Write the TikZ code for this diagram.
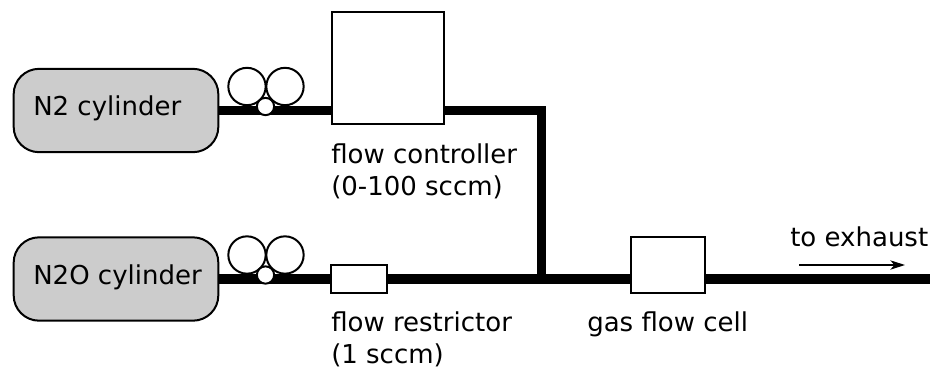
\documentclass[tikz,border=0pt]{standalone}
\usepackage{fontspec}
\setmainfont{DejaVu Sans}
\usetikzlibrary{arrows.meta}
\tikzset{
  pipe/.style={line width=6.8pt},
  cylbox/.style={draw,line width=1.5pt,fill=black!20,rounded corners=19pt,minimum width=153.5pt,minimum height=62.5pt,inner sep=0pt},
  whitebox/.style={draw,line width=1.5pt,fill=white,inner sep=0pt},
  gauge/.style={circle,draw,line width=1.5pt,fill=white,minimum size=28pt,inner sep=0pt},
  valve/.style={circle,draw,line width=1.5pt,fill=white,minimum size=13pt,inner sep=0pt},
  label/.style={inner sep=0pt,anchor=base west,align=left,font=\fontsize{19.5}{24}\selectfont}
}
\begin{document}
\begin{tikzpicture}[x=0.75pt,y=-0.75pt,line cap=butt,line join=miter,>={Stealth[length=11pt,width=7pt,inset=3pt]}]
  \useasboundingbox (0,0) rectangle (933,369);
  \node[cylbox] (cylA) at (116,110.5) {};
  \node[cylbox] (cylB) at (116,279) {};
  \node[whitebox,minimum width=84pt,minimum height=84pt] (ctrl) at (387.5,68) {};
  \node[whitebox,minimum width=42pt,minimum height=21pt] (rest) at (359,279) {};
  \node[whitebox,minimum width=56pt,minimum height=42pt] (cell) at (668,265) {};
  \coordinate (tee) at (541.5,279);
  \coordinate (corner) at (541.5,110.5);
  \coordinate (outlet) at (930,279);
  % pipes
  \draw[pipe] (cylA.east) -- (ctrl.west |- cylA.east);
  \draw[pipe] (ctrl.east |- corner) -- (corner) -- (tee);
  \draw[pipe] (cylB.east) -- (rest.west);
  \draw[pipe] (rest.east) -- (cell.west |- rest.east);
  \draw[pipe] (cell.east |- tee) -- (outlet);
  % regulators
  \foreach \name/\yy in {A/86.5,B/255}{
    \node[gauge] (gaugeL\name) at (247,\yy) {};
    \node[gauge] (gaugeR\name) at (285,\yy) {};
    \node[valve] (valve\name) at (265.5,\yy+20) {};
  }
  % labels
  \node[label] (cylAtxt) at (33,115) {N2 cylinder};
  \node[label] (cylBtxt) at (33,284) {N2O cylinder};
  \node[label] (ctrltxt) at (331,195) {flow controller\\(0-100 sccm)};
  \node[label] (resttxt) at (331,363.5) {flow restrictor\\(1 sccm)};
  \node[label] (celltxt) at (587,331) {gas flow cell};
  \node[label] (exhtxt) at (790,246) {to exhaust};
  \coordinate (flowA) at (799,265);
  \coordinate (flowB) at (905,265);
  \draw[->,line width=1pt] (flowA) -- (flowB);
\end{tikzpicture}
\end{document}
